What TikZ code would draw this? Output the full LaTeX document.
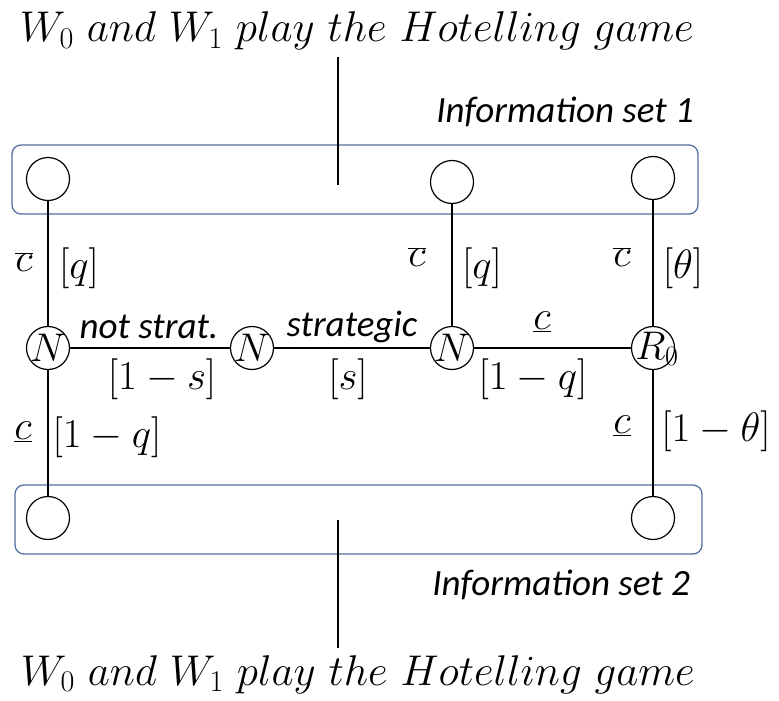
\RequirePackage{fix-cm}
\documentclass[tikz,border=0pt]{standalone}
\usepackage{fontspec}
\newfontfamily\carl{Carlito}
\definecolor{setblue}{RGB}{84,112,160}
\begin{document}
\begin{tikzpicture}[x=1pt,y=-1pt,
  every node/.style={inner sep=0pt},
  chance/.style={circle, draw, line width=1.2pt, minimum size=43pt, inner sep=0pt},
  edge/.style={line width=2pt},
  infoset/.style={draw=setblue, line width=1.3pt, rounded corners=9pt},
  nlab/.style={font=\fontsize{40}{44}\selectfont},
  mlab/.style={font=\fontsize{41}{48}\selectfont},
  slab/.style={font=\carl\itshape\fontsize{37}{42}\selectfont},
  ttl/.style={font=\fontsize{43}{50}\selectfont}]
\useasboundingbox (0,0) rectangle (779,701);
\fill[white] (0,0) rectangle (779,701);
% information sets
\draw[infoset] (12,145) rectangle (698,214);
\draw[infoset] (15,485) rectangle (702,554);
% titles
\node[ttl, anchor=base] (top) at (357,42) {$W_0\ and\ W_1\ play\ the\ Hotelling\ game$};
\node[ttl, anchor=base] (bot) at (358,685) {$W_0\ and\ W_1\ play\ the\ Hotelling\ game$};
\coordinate (t1) at (338,57);
\coordinate (t2) at (338,185);
\coordinate (b1) at (338,520);
\coordinate (b2) at (338,648);
\draw[edge] (t1) -- (t2);
\draw[edge] (b1) -- (b2);
\node[slab, anchor=base east] (is1) at (694,122) {Information set 1};
\node[slab, anchor=base east] (is2) at (690,595) {Information set 2};
% terminal nodes
\node[chance] (a1) at (48,179) {};
\node[chance] (a2) at (452,182) {};
\node[chance] (a3) at (653,178) {};
\node[chance] (d1) at (48,518) {};
\node[chance] (d2) at (653,518) {};
% chance / decision nodes
\node[chance] (n1) at (48,348) {};
\node[chance] (n2) at (252,348) {};
\node[chance] (n3) at (452,348) {};
\node[chance] (r0) at (653,348) {};
\node[nlab] at (n1.center) {$N$};
\node[nlab] at (n2.center) {$N$};
\node[nlab] at (n3.center) {$N$};
\node[nlab] at ([xshift=4pt,yshift=-1pt]r0.center) {$R_0$};
% connectors
\draw[edge] (a1) -- (n1);
\draw[edge] (n1) -- (d1);
\draw[edge] (n1) -- (n2);
\draw[edge] (n2) -- (n3);
\draw[edge] (a2) -- (n3);
\draw[edge] (n3) -- (r0);
\draw[edge] (a3) -- (r0);
\draw[edge] (r0) -- (d2);
% labels
\node[mlab] at (24,262) {$\overline{c}$};
\node[mlab] at (79,268) {$[q]$};
\node[mlab] at (417,257) {$\overline{c}$};
\node[mlab] at (482,268) {$[q]$};
\node[mlab] at (622,257) {$\overline{c}$};
\node[mlab] at (683,268) {$[\theta]$};
\node[slab] at (149,327) {not strat.};
\node[slab] at (352,327) {strategic};
\node[mlab] at (542,322) {$\underline{c}$};
\node[mlab] at (162,379) {$[1-s]$};
\node[mlab] at (348,379) {$[s]$};
\node[mlab] at (533,379) {$[1-q]$};
\node[mlab] at (23,432) {$\underline{c}$};
\node[mlab] at (107,437) {$[1-q]$};
\node[mlab] at (622,426) {$\underline{c}$};
\node[mlab] at (716,431) {$[1-\theta]$};
\end{tikzpicture}
\end{document}
